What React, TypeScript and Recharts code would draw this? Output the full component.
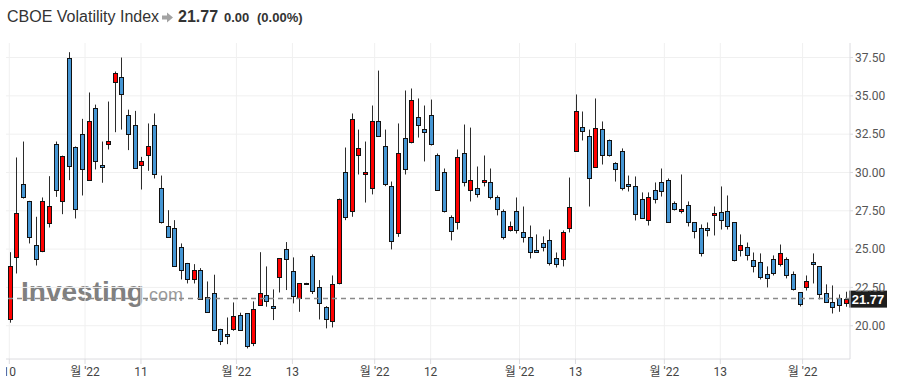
import React from 'react';
import { ComposedChart, Bar, XAxis, YAxis, CartesianGrid, ReferenceLine } from 'recharts';

const opens = [
  20.41, 24.46, 29.22, 28.11, 25.24, 24.89, 26.72, 31.83, 28.11, 37.5,
  31.67, 32.48, 29.48, 34.24, 30.52, 31.89, 35.93, 36.2, 33.78, 33.07,
  30.46, 31.11, 33.13, 29.02, 26.54, 26.41, 25.17, 24.07, 23.07, 23.63,
  21.89, 22.15, 19.76, 19.43, 19.76, 20.67, 20.8, 18.85, 21.33, 21.98,
  21.28, 23.15, 24.98, 23.54, 21.78, 22.76, 24.52, 22.54, 21.2, 20.28,
  22.76, 30.04, 27.46, 31.17, 29.87, 29.02, 33.39, 31.76, 29.15, 26.02,
  32.22, 31.96, 33.65, 32.87, 33.78, 31.11, 30.0, 27.07, 26.8, 31.24,
  28.83, 29.02, 29.35, 29.35, 28.43, 27.52, 26.22, 27.52, 26.09, 25.76,
  24.91, 25.37, 25.57, 24.39, 24.33, 26.35, 31.43, 33.0, 32.41, 30.39,
  32.87, 32.09, 30.65, 31.43, 29.28, 29.09, 28.3, 26.93, 28.83, 29.41,
  29.54, 27.98, 27.46, 27.85, 26.74, 26.41, 26.41, 27.2, 27.39, 27.52,
  26.74, 24.91, 25.17, 24.26, 24.13, 23.35, 24.33, 24.0, 24.33, 23.35,
  22.17, 22.5, 24.13, 23.87, 22.11, 21.52, 21.78, 21.46,
];
const highs = [
  24.8, 30.98, 32.02, 28.15, 27.11, 28.37, 29.76, 32.02, 31.1, 37.85,
  31.7, 33.5, 35.22, 34.43, 32.02, 34.63, 36.59, 37.5, 34.1, 34.02,
  31.02, 33.2, 33.85, 29.8, 27.54, 26.89, 25.37, 24.1, 24.02, 23.76,
  22.89, 23.33, 19.8, 20.54, 21.52, 20.85, 20.82, 21.59, 24.8, 23.87,
  22.37, 24.4, 25.46, 24.46, 22.78, 22.8, 24.65, 22.98, 21.28, 23.28,
  28.3, 31.63, 33.85, 32.8, 32.02, 34.37, 36.65, 32.8, 29.41, 33.2,
  35.35, 35.48, 34.83, 34.37, 34.76, 31.24, 30.26, 27.2, 31.5, 33.13,
  32.93, 30.39, 31.11, 30.26, 28.5, 27.59, 26.8, 28.37, 27.78, 26.54,
  25.96, 25.83, 26.28, 24.78, 26.22, 29.67, 35.09, 33.98, 32.8, 34.83,
  33.33, 32.15, 30.67, 31.57, 29.8, 29.74, 28.7, 28.7, 29.35, 30.26,
  29.61, 28.11, 29.87, 28.11, 26.76, 26.61, 26.74, 27.78, 29.09, 28.5,
  26.76, 25.96, 25.43, 24.78, 24.72, 23.87, 24.59, 25.3, 24.46, 23.54,
  22.19, 23.28, 24.72, 23.89, 22.7, 22.63, 22.04, 22.22,
];
const lows = [
  20.2, 23.41, 28.3, 25.37, 23.93, 24.8, 26.41, 28.41, 27.28, 29.5,
  27.0, 28.5, 29.45, 30.2, 29.33, 31.5, 32.63, 32.8, 31.46, 30.25,
  28.89, 30.11, 29.61, 26.67, 25.75, 23.9, 23.02, 22.76, 22.76, 21.7,
  20.85, 19.7, 18.74, 18.8, 19.67, 19.67, 18.52, 18.67, 21.3, 21.24,
  20.37, 22.17, 22.33, 21.46, 20.91, 22.72, 22.07, 20.41, 19.83, 19.89,
  22.7, 26.89, 27.11, 29.87, 28.04, 28.57, 32.4, 29.11, 24.98, 25.8,
  29.87, 31.9, 32.28, 30.72, 31.76, 28.83, 27.39, 25.57, 26.28, 29.09,
  28.11, 28.37, 29.09, 28.24, 27.2, 25.63, 26.15, 26.02, 25.43, 24.39,
  24.75, 24.85, 23.93, 23.8, 23.87, 26.09, 31.37, 32.09, 27.78, 30.35,
  30.52, 31.04, 29.41, 28.83, 28.76, 26.87, 26.98, 26.54, 27.98, 28.43,
  26.72, 27.52, 27.33, 26.48, 25.7, 24.52, 25.83, 25.89, 26.28, 26.28,
  24.2, 24.52, 24.26, 23.48, 23.02, 22.5, 23.28, 23.87, 23.09, 22.3,
  21.26, 22.3, 22.76, 21.72, 21.5, 20.8, 20.91, 21.24,
];
const closes = [
  23.93, 27.37, 28.37, 25.76, 24.33, 28.11, 27.8, 28.89, 31.07, 30.41,
  27.65, 30.2, 33.33, 30.78, 30.39, 32.04, 36.46, 35.15, 32.48, 30.28,
  30.76, 31.76, 29.87, 26.74, 25.78, 23.93, 23.63, 23.07, 23.63, 21.72,
  20.89, 19.72, 19.0, 19.3, 20.61, 19.72, 18.67, 21.07, 22.11, 21.59,
  21.13, 24.39, 24.33, 21.91, 22.76, 22.74, 22.24, 21.46, 20.41, 22.7,
  28.24, 27.07, 33.5, 31.63, 30.0, 33.39, 32.41, 29.28, 25.5, 31.24,
  30.26, 34.76, 33.07, 32.61, 31.83, 28.89, 27.52, 26.15, 30.98, 29.41,
  29.48, 28.57, 29.48, 28.43, 27.59, 25.76, 26.54, 26.22, 25.76, 24.78,
  24.78, 25.11, 24.07, 24.0, 26.09, 27.78, 34.04, 32.74, 29.67, 32.93,
  31.17, 31.11, 30.26, 29.02, 29.09, 27.26, 27.0, 28.37, 28.24, 28.76,
  26.74, 27.59, 27.59, 26.8, 26.15, 24.72, 26.22, 27.33, 26.87, 26.48,
  24.26, 25.3, 24.59, 23.93, 23.15, 23.09, 23.41, 24.72, 23.28, 22.37,
  21.39, 22.89, 24.0, 22.04, 21.52, 21.2, 21.33, 21.77,
];

const xTickValues = [1, 12.5, 21, 35.5, 44, 56.5, 65, 78.5, 87, 100.5, 109, 121.5];
const xTickLabels = ['10', "월 '22", '11', "월 '22", '13', "월 '22", '12', "월 '22", '13', "월 '22", '13', "월 '22"];
const yTicks = [20, 22.5, 25, 27.5, 30, 32.5, 35, 37.5];
const lastPrice = 21.77;

const data = opens.map((o, k) => ({
  i: k + 1,
  open: o,
  high: highs[k],
  low: lows[k],
  close: closes[k],
  range: [lows[k], highs[k]],
}));

const UP = '#ff0000';
const DOWN = '#4596d4';

function Candle(props: any) {
  const { x, y, width, height, payload } = props;
  if (!payload || height == null) return null;
  const { open, close, high, low } = payload;
  const k = high - low > 0 ? height / (high - low) : 0;
  const yOf = (v: number) => y + (high - v) * k;
  const cx = Math.round(x + width / 2) + 0.5;
  const top = Math.round(yOf(Math.max(open, close))) + 0.5;
  let bot = Math.round(yOf(Math.min(open, close))) + 0.5;
  if (bot - top < 1) bot = top + 1;
  const up = close >= open;
  return (
    <g>
      <line x1={cx} x2={cx} y1={yOf(high)} y2={yOf(low)} stroke="#2b2b2b" strokeWidth={1} />
      <rect x={cx - 2} y={top} width={4} height={bot - top} fill={up ? UP : DOWN} stroke="#111" strokeWidth={1} />
    </g>
  );
}

function PriceTag(props: any) {
  const vb = props.viewBox || {};
  const x = (vb.x || 0) + (vb.width || 0);
  const y = vb.y || 0;
  return (
    <g>
      <rect x={x - 1} y={y - 8} width={38} height={17} fill="#1e1e1e" />
      <text x={x + 18} y={y + 5} textAnchor="middle" fill="#fff" fontSize={13} fontWeight="bold"
        fontFamily="'Liberation Sans', Arial, sans-serif">{lastPrice.toFixed(2)}</text>
    </g>
  );
}

const tickFont = "Roboto, 'Noto Sans CJK KR', sans-serif";

export default function App() {
  return (
    <div style={{ position: 'absolute', left: 0, top: 0, width: 899, height: 392, background: '#fff', overflow: 'hidden' }}>
      <svg width={899} height={392} style={{ position: 'absolute', left: 0, top: 0 }}>
        <text x={7} y={22} fontSize={16} fill="#333" fontFamily="'Liberation Sans', Arial, sans-serif">CBOE Volatility Index</text>
        <path d="M162 15.5 H167 V12.5 L173 17.5 L167 22.5 V19.5 H162 Z" fill="#a3a3a3" />
        <text x={178} y={22} fontSize={16} fontWeight="bold" fill="#333" fontFamily="'Liberation Sans', Arial, sans-serif">21.77</text>
        <text x={224} y={22} fontSize={13} fontWeight="bold" fill="#333" fontFamily="'Liberation Sans', Arial, sans-serif">0.00</text>
        <text x={257} y={22} fontSize={13} fontWeight="bold" fill="#333" fontFamily="'Liberation Sans', Arial, sans-serif">(0.00%)</text>
        <text x={21} y={301} fontSize={28} fontWeight="bold" fill="#808080" fontFamily="'Liberation Sans', Arial, sans-serif">Investing</text>
        <text x={144} y={301} fontSize={18} fill="#9a9a9a" fontFamily="'Liberation Sans', Arial, sans-serif">.com</text>
      </svg>
      <div style={{ position: 'absolute', left: 6, top: 0 }}>
        <ComposedChart width={893} height={392} data={data} margin={{ top: 43, right: 0, bottom: 0, left: 0 }}>
          <CartesianGrid stroke="#f0f0f0" horizontalValues={yTicks} verticalValues={xTickValues} />
          <XAxis
            dataKey="i"
            type="number"
            scale="linear"
            domain={[0.5, 128.7]}
            allowDataOverflow
            ticks={xTickValues}
            interval={0}
            tickFormatter={(v: number) => xTickLabels[xTickValues.indexOf(v)] ?? ''}
            height={33}
            axisLine={{ stroke: '#dcdce0' }}
            tickLine={{ stroke: '#dcdce0' }}
            tickSize={5}
            tickMargin={3}
            tick={{ fill: '#444', fontSize: 12, fontFamily: tickFont }}
          />
          <YAxis
            orientation="right"
            type="number"
            domain={[17.83, 38.45]}
            allowDataOverflow
            ticks={yTicks}
            interval={0}
            tickFormatter={(v: number) => v.toFixed(2)}
            width={49}
            axisLine={{ stroke: '#dcdce0' }}
            tickLine={{ stroke: '#dcdce0' }}
            tickSize={3}
            tickMargin={2}
            tick={{ fill: '#555', fontSize: 12, fontFamily: tickFont }}
          />
          <ReferenceLine y={lastPrice} stroke="#8a8a8a" strokeDasharray="5 4" strokeWidth={1.5} label={(p: any) => <PriceTag {...p} />} />
          <Bar dataKey="range" barSize={5} isAnimationActive={false} shape={(p: any) => <Candle {...p} />} />
        </ComposedChart>
      </div>
    </div>
  );
}
